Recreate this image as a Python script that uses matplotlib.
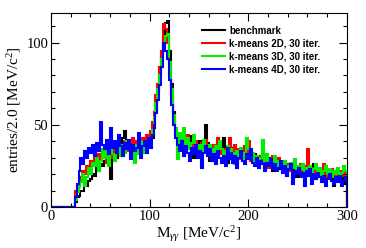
import numpy as np
import matplotlib
matplotlib.use('Agg')
import matplotlib.pyplot as plt
from matplotlib.ticker import MultipleLocator

plt.rcParams['font.family'] = 'Liberation Serif'
plt.rcParams['mathtext.fontset'] = 'custom'
plt.rcParams['mathtext.rm'] = 'Liberation Serif'
plt.rcParams['mathtext.it'] = 'Liberation Serif:italic'

# 2 MeV bins from 0 to 300
bin_edges = np.arange(0, 302, 2)

benchmark = [0] * 12 + [
    3, 6, 7, 10, 10, 13, 13, 16, 17, 20, 19, 24, 22, 26, 25, 28, 27, 31,
    17, 30, 33, 30, 35, 36, 42, 46, 38, 36, 34, 38, 33, 40, 37, 35, 39, 33,
    42, 38, 44, 42, 48, 58, 70, 80, 92, 100, 112, 113, 95, 75, 58, 48, 42, 40,
    44, 38, 41, 36, 43, 34, 30, 38, 35, 40, 33, 37, 50, 39, 28, 36, 34, 27,
    38, 34, 33, 42, 32, 27, 33, 31, 36, 30, 26, 33, 30, 34, 29, 31, 36, 28,
    28, 32, 25, 30, 26, 29, 24, 28, 30, 26, 22, 28, 25, 27, 23, 26, 28, 19,
    26, 23, 27, 22, 18, 24, 22, 25, 21, 23, 19, 22, 20, 26, 17, 21, 19, 22,
    15, 20, 17, 21, 18, 13, 19, 16, 20, 18, 14, 21]

kmeans_2d = [0] * 12 + [
    10, 12, 16, 18, 22, 20, 25, 22, 28, 26, 30, 27, 32, 29, 34, 30, 27, 33,
    30, 35, 28, 38, 33, 36, 31, 40, 37, 34, 39, 42, 36, 40, 38, 35, 42, 37,
    44, 40, 46, 52, 58, 68, 75, 85, 95, 111, 108, 100, 85, 68, 55, 46, 42, 38,
    45, 36, 40, 44, 35, 38, 33, 40, 37, 34, 39, 35, 41, 33, 37, 34, 38, 31,
    42, 36, 32, 35, 30, 37, 42, 34, 30, 38, 32, 35, 29, 33, 37, 31, 40, 28,
    32, 30, 26, 31, 28, 34, 27, 30, 24, 29, 31, 27, 25, 30, 24, 27, 23, 26,
    25, 22, 26, 24, 21, 23, 26, 22, 25, 20, 35, 22, 19, 24, 21, 18, 22, 20,
    26, 17, 21, 19, 23, 18, 20, 17, 22, 19, 21, 18]

kmeans_3d = [0] * 12 + [
    4, 9, 12, 15, 20, 13, 18, 24, 20, 27, 25, 30, 22, 28, 35, 30, 36, 25,
    38, 32, 28, 36, 40, 31, 38, 33, 40, 36, 31, 35, 27, 38, 32, 36, 40, 33,
    38, 36, 42, 47, 55, 63, 72, 80, 90, 98, 104, 105, 88, 72, 56, 48, 29, 45,
    40, 48, 37, 42, 35, 39, 44, 36, 32, 38, 34, 41, 36, 32, 38, 35, 31, 37,
    33, 40, 35, 30, 34, 37, 31, 35, 33, 26, 34, 30, 36, 29, 33, 42, 35, 30,
    33, 28, 31, 27, 30, 41, 28, 32, 26, 29, 27, 31, 25, 28, 26, 24, 28, 25,
    23, 27, 24, 29, 22, 25, 23, 26, 21, 24, 22, 25, 20, 23, 26, 21, 24, 19,
    22, 25, 20, 23, 18, 22, 20, 24, 19, 21, 25, 22]

kmeans_4d = [0] * 12 + [
    6, 14, 22, 30, 26, 34, 30, 36, 33, 38, 31, 39, 34, 52, 38, 35, 41, 32,
    48, 36, 40, 33, 44, 37, 31, 39, 35, 41, 29, 38, 34, 36, 45, 30, 37, 40,
    33, 42, 36, 44, 50, 57, 65, 74, 85, 100, 95, 90, 77, 62, 50, 42, 38, 34,
    40, 31, 37, 33, 28, 36, 32, 38, 30, 34, 24, 33, 37, 31, 35, 28, 32, 26,
    34, 30, 27, 31, 25, 36, 29, 33, 27, 31, 24, 30, 34, 28, 26, 32, 29, 35,
    27, 25, 30, 24, 28, 26, 22, 27, 25, 29, 23, 26, 22, 24, 28, 21, 25, 19,
    23, 26, 14, 22, 20, 24, 18, 21, 13, 22, 19, 23, 14, 20, 17, 21, 18, 15,
    19, 13, 17, 20, 16, 14, 18, 15, 19, 13, 16, 18]

labels = ['benchmark', 'k-means 2D, 30 iter.', 'k-means 3D, 30 iter.', 'k-means 4D, 30 iter.']
colors = ['black', '#ff0000', '#00ee00', '#0000ff']

fig = plt.figure(figsize=(3.66, 2.48), dpi=100)
ax = fig.add_axes([0.139, 0.165, 0.809, 0.783])

for vals, lab, col in zip([benchmark, kmeans_2d, kmeans_3d, kmeans_4d], labels, colors):
    ax.stairs(vals, bin_edges, color=col, linewidth=1.5, label=lab)

ax.set_xlim(0, 300)
ax.set_ylim(0, 118)
ax.xaxis.set_major_locator(MultipleLocator(100))
ax.xaxis.set_minor_locator(MultipleLocator(20))
ax.yaxis.set_major_locator(MultipleLocator(50))
ax.yaxis.set_minor_locator(MultipleLocator(10))
ax.tick_params(which='both', direction='in', top=True, right=True, labelsize=10.5, pad=2)
ax.tick_params(which='major', length=6, width=0.8)
ax.tick_params(which='minor', length=3, width=0.8)

ax.set_xlabel(r'M$_{\gamma\gamma}$ [MeV/c$^2$]', fontsize=11, labelpad=1)
ax.set_ylabel(r'entries/2.0 [MeV/c$^2$]', fontsize=11, labelpad=2)

leg = ax.legend(loc='upper right', bbox_to_anchor=(0.94, 0.98), frameon=False,
                prop={'family': 'Liberation Sans', 'weight': 'bold', 'size': 7},
                handlelength=2.4, handletextpad=0.4, labelspacing=0.3)
for line in leg.get_lines():
    line.set_linewidth(1.5)

plt.savefig('out.png', dpi=100)
